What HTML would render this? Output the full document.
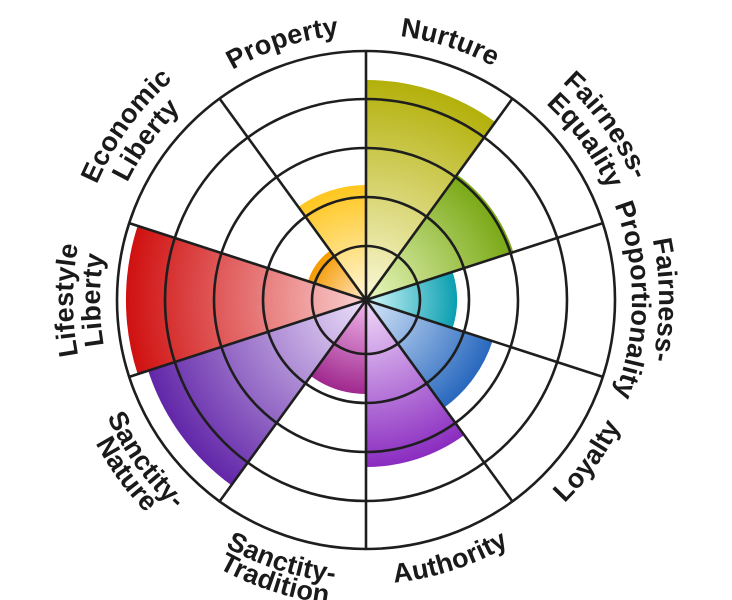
<!DOCTYPE html>
<html><head><meta charset="utf-8"><style>
html,body{margin:0;padding:0;background:#fff;width:732px;height:600px;overflow:hidden}
text{font-family:"Liberation Sans",sans-serif;font-weight:bold;font-size:27px;fill:#1a1a1a;letter-spacing:0.2px}
</style></head><body>
<svg width="732" height="600" viewBox="0 0 732 600" xmlns="http://www.w3.org/2000/svg">
<defs>
<radialGradient id="g1" gradientUnits="userSpaceOnUse" cx="366" cy="300" r="220"><stop offset="0" stop-color="#fbf9d8"/><stop offset="1" stop-color="#b3b00a"/></radialGradient>
<radialGradient id="g2" gradientUnits="userSpaceOnUse" cx="366" cy="300" r="155"><stop offset="0" stop-color="#eaf8c0"/><stop offset="1" stop-color="#78a814"/></radialGradient>
<radialGradient id="g3" gradientUnits="userSpaceOnUse" cx="366" cy="300" r="91"><stop offset="0" stop-color="#d4f8fa"/><stop offset="1" stop-color="#0a9fb0"/></radialGradient>
<radialGradient id="g4" gradientUnits="userSpaceOnUse" cx="366" cy="300" r="133"><stop offset="0" stop-color="#d8e8fa"/><stop offset="1" stop-color="#2868be"/></radialGradient>
<radialGradient id="g5" gradientUnits="userSpaceOnUse" cx="366" cy="300" r="167"><stop offset="0" stop-color="#f2dcfa"/><stop offset="1" stop-color="#8a2cc0"/></radialGradient>
<radialGradient id="g6" gradientUnits="userSpaceOnUse" cx="366" cy="300" r="94"><stop offset="0" stop-color="#f2b8ec"/><stop offset="1" stop-color="#a0288e"/></radialGradient>
<radialGradient id="g7" gradientUnits="userSpaceOnUse" cx="366" cy="300" r="229"><stop offset="0" stop-color="#ece0fa"/><stop offset="1" stop-color="#6226a8"/></radialGradient>
<radialGradient id="g8" gradientUnits="userSpaceOnUse" cx="366" cy="300" r="240"><stop offset="0" stop-color="#fad0d0"/><stop offset="1" stop-color="#d01010"/></radialGradient>
<radialGradient id="g9" gradientUnits="userSpaceOnUse" cx="366" cy="300" r="61"><stop offset="0" stop-color="#ffe8c8"/><stop offset="1" stop-color="#f59a00"/></radialGradient>
<radialGradient id="g10" gradientUnits="userSpaceOnUse" cx="366" cy="300" r="115"><stop offset="0" stop-color="#fff6d8"/><stop offset="1" stop-color="#ffc61e"/></radialGradient>
<path id="cw266" d="M366,34 A266,266 0 1 1 366,566 A266,266 0 1 1 366,34"/>
<path id="cw293" d="M366,7 A293,293 0 1 1 366,593 A293,293 0 1 1 366,7"/>
<path id="ccw284" d="M366,584 A284,284 0 1 0 366,16 A284,284 0 1 0 366,584"/>
<path id="ccw306" d="M366,606 A306,306 0 1 0 366,-6 A306,306 0 1 0 366,606"/>
</defs>
<path d="M366,300 L366,80 A220,220 0 0 1 495.3,122 Z" fill="url(#g1)"/>
<path d="M366,300 L457.1,174.6 A155,155 0 0 1 513.4,252.1 Z" fill="url(#g2)"/>
<path d="M366,300 L452.6,271.9 A91,91 0 0 1 452.6,328.1 Z" fill="url(#g3)"/>
<path d="M366,300 L492.5,341.1 A133,133 0 0 1 444.2,407.6 Z" fill="url(#g4)"/>
<path d="M366,300 L464.2,435.1 A167,167 0 0 1 366,467 Z" fill="url(#g5)"/>
<path d="M366,300 L366,394 A94,94 0 0 1 310.7,376 Z" fill="url(#g6)"/>
<path d="M366,300 L231.4,485.3 A229,229 0 0 1 148.2,370.8 Z" fill="url(#g7)"/>
<path d="M366,300 L137.7,374.2 A240,240 0 0 1 137.7,225.8 Z" fill="url(#g8)"/>
<path d="M366,300 L308,281.2 A61,61 0 0 1 330.1,250.6 Z" fill="url(#g9)"/>
<path d="M366,300 L298.4,207 A115,115 0 0 1 366,185 Z" fill="url(#g10)"/>
<g fill="none" stroke="#1e1e1e" stroke-width="2.6">
<circle cx="366" cy="300" r="54"/>
<circle cx="366" cy="300" r="103"/>
<circle cx="366" cy="300" r="152"/>
<circle cx="366" cy="300" r="201"/>
<circle cx="366" cy="300" r="249"/>
<line x1="366" y1="51" x2="366" y2="549"/>
<line x1="512.4" y1="98.6" x2="219.6" y2="501.4"/>
<line x1="602.8" y1="223.1" x2="129.2" y2="376.9"/>
<line x1="602.8" y1="376.9" x2="129.2" y2="223.1"/>
<line x1="512.4" y1="501.4" x2="219.6" y2="98.6"/>
</g>
<circle cx="366" cy="300" r="3" fill="#1e1e1e"/>
<text text-anchor="middle"><textPath href="#cw266" startOffset="5%">Nurture</textPath></text>
<text text-anchor="middle"><textPath href="#cw293" startOffset="15%">Fairness-</textPath></text>
<text text-anchor="middle"><textPath href="#cw266" startOffset="15%">Equality</textPath></text>
<text text-anchor="middle"><textPath href="#cw293" startOffset="25%">Fairness-</textPath></text>
<text text-anchor="middle"><textPath href="#cw266" startOffset="25%">Proportionality</textPath></text>
<text text-anchor="middle"><textPath href="#cw293" startOffset="85%">Economic</textPath></text>
<text text-anchor="middle"><textPath href="#cw266" startOffset="85%">Liberty</textPath></text>
<text text-anchor="middle"><textPath href="#cw293" startOffset="75%">Lifestyle</textPath></text>
<text text-anchor="middle"><textPath href="#cw266" startOffset="75%">Liberty</textPath></text>
<text text-anchor="middle"><textPath href="#cw266" startOffset="95%">Property</textPath></text>
<text text-anchor="middle"><textPath href="#ccw284" startOffset="5%">Authority</textPath></text>
<text text-anchor="middle"><textPath href="#ccw284" startOffset="15%">Loyalty</textPath></text>
<text text-anchor="middle"><textPath href="#ccw284" startOffset="95%">Sanctity-</textPath></text>
<text text-anchor="middle"><textPath href="#ccw306" startOffset="95%">Tradition</textPath></text>
<text text-anchor="middle"><textPath href="#ccw284" startOffset="85%">Sanctity-</textPath></text>
<text text-anchor="middle"><textPath href="#ccw306" startOffset="85%">Nature</textPath></text>
</svg>
</body></html>
